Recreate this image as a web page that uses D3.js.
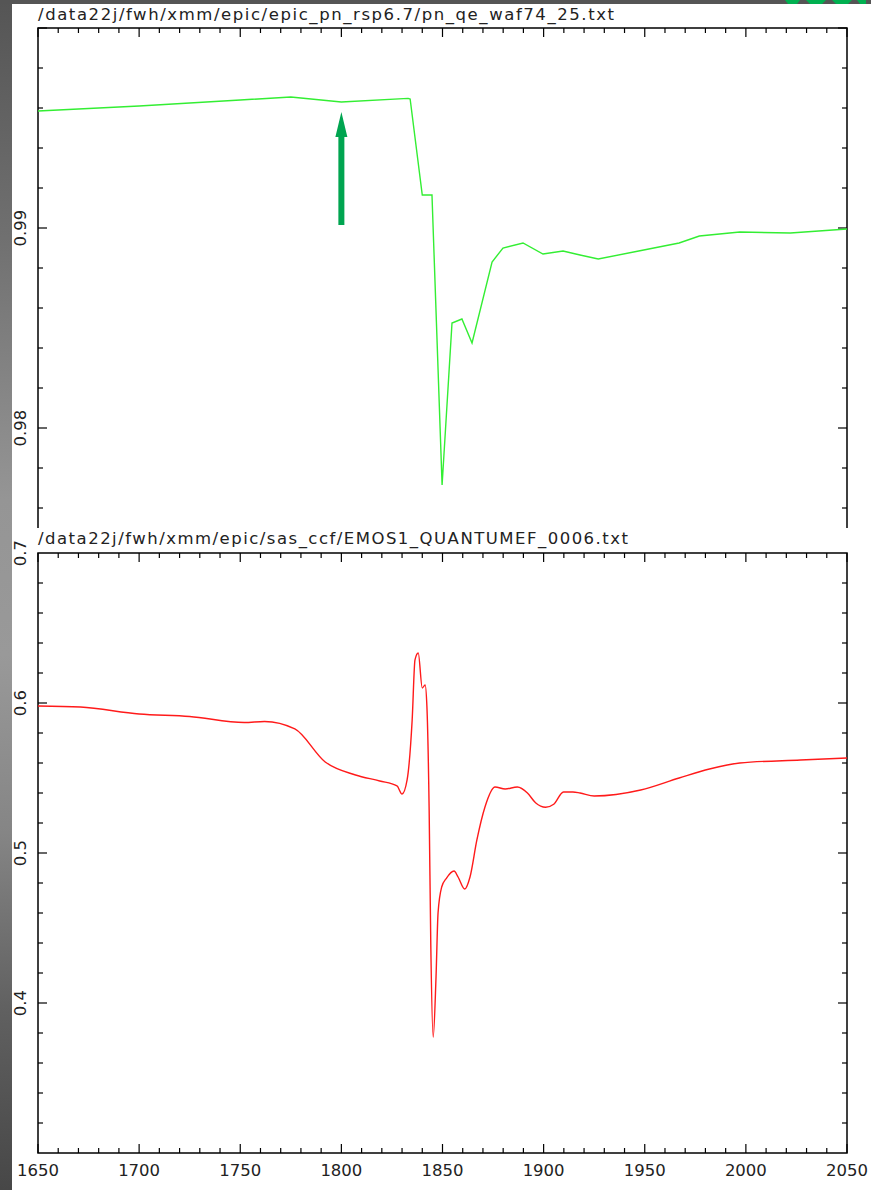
<!DOCTYPE html>
<html><head><meta charset="utf-8">
<script src="https://cdn.jsdelivr.net/npm/d3@7"></script>
<style>html,body{margin:0;padding:0;background:#fff;}svg{display:block;}</style>
</head><body>
<svg id="c" width="871" height="1190"></svg>
<script>
// ---- data ----
const title1 = "/data22j/fwh/xmm/epic/epic_pn_rsp6.7/pn_qe_waf74_25.txt";
const title2 = "/data22j/fwh/xmm/epic/sas_ccf/EMOS1_QUANTUMEF_0006.txt";
const xTickLabels = [1650, 1700, 1750, 1800, 1850, 1900, 1950, 2000, 2050];
const topYLabels = [0.98, 0.99];
const botYLabels = [0.4, 0.5, 0.6, 0.7];
const pnEnergy = [1650, 1700, 1750, 1775, 1800, 1833, 1834, 1840, 1844.8, 1849.8, 1854.7, 1859.6, 1864.6, 1874.5, 1879.9, 1889.8, 1899.7, 1909.6, 1918, 1927, 1947, 1967, 1977, 1997, 2022, 2050];
const pnQE = [0.99585, 0.9961, 0.9964, 0.99655, 0.9963, 0.99648, 0.99645, 0.99165, 0.99165, 0.97715, 0.98525, 0.98545, 0.98425, 0.9883, 0.989, 0.98925, 0.9887, 0.98885, 0.98865, 0.98845, 0.98885, 0.98925, 0.9896, 0.9898, 0.98975, 0.98995];
const mosEnergy = [1650, 1671, 1700, 1725, 1752, 1762, 1777, 1792, 1807, 1819, 1827.5, 1830, 1832.5, 1835, 1836.4, 1838, 1840, 1841.4, 1842.3, 1843.4, 1844.2, 1845.4, 1846.8, 1847.8, 1849.6, 1852, 1855.7, 1857.7, 1861, 1863.6, 1867, 1871, 1876, 1881, 1887, 1892, 1896, 1901, 1905, 1909.8, 1914.5, 1918, 1925, 1948, 1967, 1982, 1997, 2027, 2050];
const mosQE = [0.598, 0.5973, 0.5927, 0.591, 0.587, 0.5877, 0.5827, 0.5607, 0.552, 0.548, 0.5447, 0.5393, 0.5487, 0.5887, 0.6287, 0.6333, 0.61, 0.612, 0.5973, 0.5287, 0.44, 0.3773, 0.4173, 0.46, 0.4773, 0.4833, 0.488, 0.484, 0.476, 0.484, 0.5087, 0.5307, 0.544, 0.5427, 0.544, 0.54, 0.5335, 0.5305, 0.5325, 0.5407, 0.5407, 0.54, 0.538, 0.542, 0.55, 0.556, 0.56, 0.562, 0.5633];
const arrowX = 1800, arrowTip = 0.9958, arrowHeadBase = 0.99455, arrowTail = 0.99015;

// ---- scales ----
const svg = d3.select("#c");
const x = d3.scaleLinear().domain([1650, 2050]).range([38, 847]);
const yTop = d3.scaleLinear().domain([0.975, 1.0]).range([528, 28]);
const yBot = d3.scaleLinear().domain([0.3, 0.7]).range([1153, 553]);
const FONT = "'DejaVu Sans', sans-serif";

// ---- window chrome ----
const grad = svg.append("defs").append("linearGradient").attr("id", "lg").attr("x1", 0).attr("y1", 0).attr("x2", 0).attr("y2", 1);
[[0, "#555"], [0.2, "#707070"], [0.42, "#959595"], [0.55, "#999"], [0.7, "#858585"], [0.85, "#606060"], [1, "#474747"]].forEach(s => grad.append("stop").attr("offset", s[0]).attr("stop-color", s[1]));
svg.append("rect").attr("x", 0).attr("y", 0).attr("width", 12).attr("height", 1190).attr("fill", "url(#lg)");
svg.append("rect").attr("x", 0).attr("y", 0).attr("width", 871).attr("height", 4).attr("fill", "#555");
svg.append("path").attr("fill", "#00b050").attr("d", "M785,0 L800,0 L797,4 L788,4 Z M806,0 L826,0 L822,4 L810,4 Z M832,0 L852,0 L848,4 L836,4 Z M857,0 L866,0 L866,4 L860,4 Z");

// ---- axes helper ----
const xMinor = d3.range(1650, 2051, 10);
function xTicks(yPos, dir) {
  svg.append("g").selectAll("line").data(xMinor).join("line")
    .attr("x1", d => x(d)).attr("x2", d => x(d))
    .attr("y1", yPos).attr("y2", d => yPos + dir * (d % 50 === 0 ? 9 : 5))
    .attr("stroke", "#000").attr("stroke-width", 1.2);
}
function yTicks(scale, vals, majorStep) {
  const g = svg.append("g");
  vals.forEach(v => {
    const isMaj = Math.abs(v / majorStep - Math.round(v / majorStep)) < 1e-6;
    const len = isMaj ? 9 : 5;
    g.append("line").attr("x1", 38).attr("x2", 38 + len).attr("y1", scale(v)).attr("y2", scale(v)).attr("stroke", "#000").attr("stroke-width", 1.2);
    g.append("line").attr("x1", 847).attr("x2", 847 - len).attr("y1", scale(v)).attr("y2", scale(v)).attr("stroke", "#000").attr("stroke-width", 1.2);
  });
}
function yLabels(scale, vals, fmt) {
  svg.append("g").selectAll("text").data(vals).join("text")
    .attr("transform", d => `translate(26,${scale(d)}) rotate(-90)`)
    .attr("text-anchor", "middle").attr("font-family", FONT).attr("font-size", 16.5)
    .attr("fill", "#222").text(fmt);
}

// ---- top panel ----
svg.append("text").attr("x", 38).attr("y", 20).attr("font-family", FONT).attr("font-size", 16.5)
  .attr("fill", "#222").attr("textLength", 576).attr("lengthAdjust", "spacing").text(title1);
svg.append("path").attr("fill", "none").attr("stroke", "#000").attr("stroke-width", 1.5)
  .attr("d", `M${x(1650)},${yTop(0.975)} L${x(1650)},${yTop(1)} L${x(2050)},${yTop(1)} L${x(2050)},${yTop(0.975)}`);
xTicks(yTop(1), 1);
yTicks(yTop, d3.range(0, 13).map(i => +(0.976 + i * 0.002).toFixed(3)), 0.01);
yLabels(yTop, topYLabels, d => d.toFixed(2));
svg.append("path").datum(d3.zip(pnEnergy, pnQE)).attr("fill", "none").attr("stroke", "#33ee33").attr("stroke-width", 1.4)
  .attr("d", d3.line().x(d => x(d[0])).y(d => yTop(d[1])));
const ax = x(arrowX);
svg.append("path").attr("fill", "#00a550")
  .attr("d", `M${ax - 3},${yTop(arrowTail)} L${ax - 3},${yTop(arrowHeadBase)} L${ax - 6},${yTop(arrowHeadBase)} L${ax},${yTop(arrowTip)} L${ax + 6},${yTop(arrowHeadBase)} L${ax + 3},${yTop(arrowHeadBase)} L${ax + 3},${yTop(arrowTail)} Z`);

// ---- bottom panel ----
svg.append("text").attr("x", 38).attr("y", 544).attr("font-family", FONT).attr("font-size", 16.5)
  .attr("fill", "#222").attr("textLength", 590).attr("lengthAdjust", "spacing").text(title2);
svg.append("rect").attr("x", x(1650)).attr("y", yBot(0.7)).attr("width", x(2050) - x(1650)).attr("height", yBot(0.3) - yBot(0.7))
  .attr("fill", "none").attr("stroke", "#000").attr("stroke-width", 1.5);
xTicks(yBot(0.7), 1);
xTicks(yBot(0.3), -1);
yTicks(yBot, d3.range(1, 20).map(i => +(0.3 + i * 0.02).toFixed(2)), 0.1);
yLabels(yBot, botYLabels, d => d.toFixed(1));
svg.append("path").datum(d3.zip(mosEnergy, mosQE)).attr("fill", "none").attr("stroke", "#ff1a1a").attr("stroke-width", 1.4)
  .attr("d", d3.line().curve(d3.curveMonotoneX).x(d => x(d[0])).y(d => yBot(d[1])));
svg.append("g").selectAll("text").data(xTickLabels).join("text")
  .attr("x", d => x(d)).attr("y", 1176).attr("text-anchor", "middle")
  .attr("font-family", FONT).attr("font-size", 16.5).attr("fill", "#222").text(d => d);
</script>
</body></html>
